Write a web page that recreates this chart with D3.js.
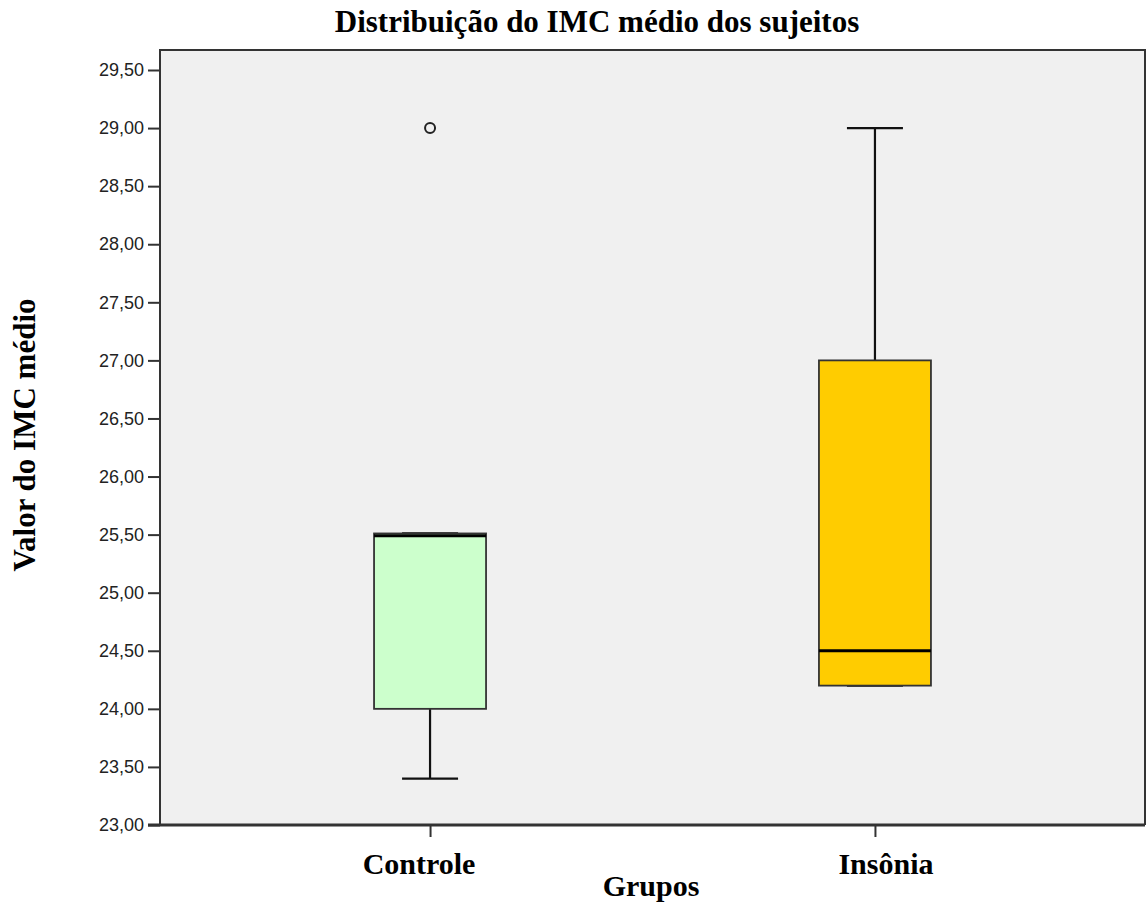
<!DOCTYPE html>
<html><head><meta charset="utf-8">
<script src="https://cdn.jsdelivr.net/npm/d3@7"></script>
<style>body{margin:0;background:#fff}</style>
</head><body>
<svg id="c" width="1146" height="905"></svg>
<script>
const categories = ["Controle", "Insônia"];
const whiskerLow = [23.40, 24.20];
const q1 = [24.00, 24.20];
const median = [25.49, 24.50];
const q3 = [25.51, 27.00];
const whiskerHigh = [25.51, 29.00];
const outliers = [[29.00], []];
const fills = ["#ccffcc", "#ffcc00"];
const yTicks = [23.0, 23.5, 24.0, 24.5, 25.0, 25.5, 26.0, 26.5, 27.0, 27.5, 28.0, 28.5, 29.0, 29.5];

const svg = d3.select("#c");
const L = 160, R = 1145, T = 50, B = 825;
const serif = "'Liberation Serif','Times New Roman',serif";
const sans = "'Liberation Sans',Arial,sans-serif";

const y = d3.scaleLinear().domain([23, 29.5]).range([B, 70]);
const x = d3.scalePoint().domain(categories).range([L, R]).padding(0.607);
const bw = 112;

svg.append("rect").attr("x", L).attr("y", T).attr("width", R - L).attr("height", B - T)
  .attr("fill", "#f0f0f0");

// y axis
const yAxis = d3.axisLeft(y).tickValues(yTicks).tickSize(12).tickPadding(4)
  .tickFormat(d => d3.format(".2f")(d).replace(".", ","));
const gy = svg.append("g").attr("transform", `translate(${L},0)`).call(yAxis);
gy.select(".domain").remove();
gy.selectAll("line").attr("stroke", "#333").attr("stroke-width", 2);
gy.selectAll("text").attr("font-family", sans).attr("font-size", 18).attr("fill", "#222");

// x axis
const xAxis = d3.axisBottom(x).tickSize(12).tickFormat("");
const gx = svg.append("g").attr("transform", `translate(0,${B})`).call(xAxis);
gx.select(".domain").remove();
gx.selectAll("line").attr("stroke", "#333").attr("stroke-width", 2);

const data = categories.map((c, i) => ({c, i}));
const g = svg.append("g");
data.forEach(({c, i}) => {
  const cx = x(c);
  // whiskers
  g.append("line").attr("x1", cx).attr("x2", cx).attr("y1", y(q3[i])).attr("y2", y(whiskerHigh[i]))
    .attr("stroke", "#111").attr("stroke-width", 2.2);
  g.append("line").attr("x1", cx).attr("x2", cx).attr("y1", y(q1[i])).attr("y2", y(whiskerLow[i]))
    .attr("stroke", "#111").attr("stroke-width", 2.2);
  g.append("line").attr("x1", cx - bw / 4).attr("x2", cx + bw / 4).attr("y1", y(whiskerHigh[i])).attr("y2", y(whiskerHigh[i]))
    .attr("stroke", "#111").attr("stroke-width", 2.2);
  g.append("line").attr("x1", cx - bw / 4).attr("x2", cx + bw / 4).attr("y1", y(whiskerLow[i])).attr("y2", y(whiskerLow[i]))
    .attr("stroke", "#111").attr("stroke-width", 2.2);
  // box
  g.append("rect").attr("x", cx - bw / 2).attr("y", y(q3[i])).attr("width", bw)
    .attr("height", y(q1[i]) - y(q3[i])).attr("fill", fills[i]).attr("stroke", "#333").attr("stroke-width", 1.8);
  // median
  g.append("line").attr("x1", cx - bw / 2).attr("x2", cx + bw / 2).attr("y1", y(median[i])).attr("y2", y(median[i]))
    .attr("stroke", "#000").attr("stroke-width", 3);
  // outliers
  outliers[i].forEach(v => {
    g.append("circle").attr("cx", cx).attr("cy", y(v)).attr("r", 5)
      .attr("fill", "none").attr("stroke", "#222").attr("stroke-width", 2);
  });
});

// frame
svg.append("path").attr("d", `M${L},${B}V${T}H${R}V${B}`).attr("fill", "none").attr("stroke", "#333").attr("stroke-width", 2);
svg.append("line").attr("x1", L - 12).attr("x2", R).attr("y1", B).attr("y2", B).attr("stroke", "#333").attr("stroke-width", 3);

// category labels
const catOffset = [-11, 11];
categories.forEach((c, i) => {
  svg.append("text").attr("x", x(c) + catOffset[i]).attr("y", 874).attr("text-anchor", "middle")
    .attr("font-family", serif).attr("font-weight", "bold").attr("font-size", 30).attr("fill", "#000").text(c);
});

svg.append("text").attr("x", 597).attr("y", 32).attr("text-anchor", "middle")
  .attr("font-family", serif).attr("font-weight", "bold").attr("font-size", 31).attr("fill", "#000")
  .text("Distribuição do IMC médio dos sujeitos");

svg.append("text").attr("x", 651).attr("y", 896).attr("text-anchor", "middle")
  .attr("font-family", serif).attr("font-weight", "bold").attr("font-size", 30).attr("fill", "#000")
  .text("Grupos");

svg.append("text").attr("transform", "translate(35,435) rotate(-90)").attr("text-anchor", "middle")
  .attr("font-family", serif).attr("font-weight", "bold").attr("font-size", 31).attr("fill", "#000")
  .text("Valor do IMC médio");
</script>
</body></html>
